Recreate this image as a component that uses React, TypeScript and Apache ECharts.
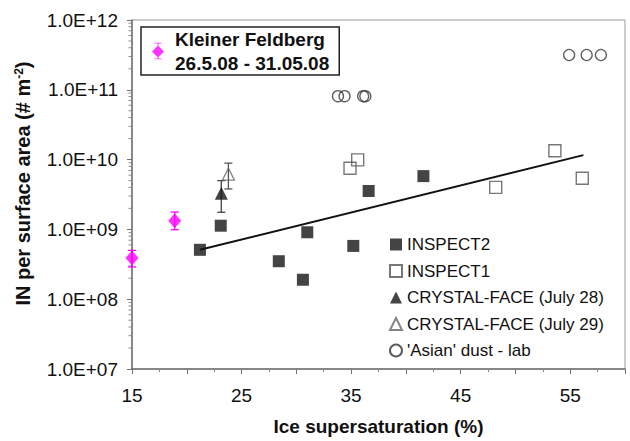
import React, { useEffect, useRef } from "react";
import * as echarts from "echarts";

const FONT = '"Liberation Sans", Arial, Helvetica, sans-serif';

// Kleiner Feldberg (magenta diamonds with error bars)
const kfX = [15.0, 18.9];
const kfY = [3.9e8, 1.33e9];
const kfLow = [2.9e8, 9.9e8];
const kfHigh = [5.0e8, 1.77e9];

// INSPECT2 (filled squares)
const inspect2X = [21.2, 23.1, 28.4, 30.6, 31.0, 35.2, 36.6, 41.6];
const inspect2Y = [5.1e8, 1.13e9, 3.5e8, 1.9e8, 9.1e8, 5.8e8, 3.55e9, 5.8e9];

// INSPECT1 (open squares)
const inspect1X = [34.9, 35.6, 48.2, 53.6, 56.1];
const inspect1Y = [7.5e9, 9.9e9, 4.0e9, 1.34e10, 5.4e9];

// CRYSTAL-FACE (July 28) filled triangle
const cf28X = [23.15];
const cf28Y = [3.3e9];
const cf28Low = [1.76e9];
const cf28High = [5.0e9];

// CRYSTAL-FACE (July 29) open triangle
const cf29X = [23.8];
const cf29Y = [6.2e9];
const cf29Low = [3.8e9];
const cf29High = [8.9e9];

// 'Asian' dust - lab (open circles)
const dustX = [33.8, 34.4, 36.1, 36.3, 54.9, 56.5, 57.8];
const dustY = [8.1e10, 8.1e10, 8.1e10, 8.1e10, 3.15e11, 3.15e11, 3.15e11];

// trend line (fit)
const trendX = [21.2, 56.2];
const trendY = [5.1e8, 1.16e10];

// axis ticks
const yDecades = [1e7, 1e8, 1e9, 1e10, 1e11];
const yMinorMultipliers = [2, 3, 4, 5, 6, 7, 8, 9];
const xLabelValues = [15, 25, 35, 45, 55];

const NAMES = {
  kf: "Kleiner Feldberg",
  i2: "INSPECT2",
  i1: "INSPECT1",
  c28: "CRYSTAL-FACE (July 28)",
  c29: "CRYSTAL-FACE (July 29)",
  dust: "'Asian' dust - lab",
};

const zip = (xs: number[], ys: number[]) => xs.map((x, i) => [x, ys[i]]);
const zip3 = (xs: number[], lo: number[], hi: number[]) =>
  xs.map((x, i) => [x, lo[i], hi[i]]);

const errorBarRender = (color: string) => (params: any, api: any) => {
  const x = api.value(0);
  const lo = api.value(1);
  const hi = api.value(2);
  const a = api.coord([x, hi]);
  const b = api.coord([x, lo]);
  const w = 4;
  const style = { stroke: color, lineWidth: 1.3 };
  return {
    type: "group",
    children: [
      { type: "line", shape: { x1: a[0], y1: a[1], x2: b[0], y2: b[1] }, style },
      { type: "line", shape: { x1: a[0] - w, y1: a[1], x2: a[0] + w, y2: a[1] }, style },
      { type: "line", shape: { x1: b[0] - w, y1: b[1], x2: b[0] + w, y2: b[1] }, style },
    ],
  };
};

const yMinorTicks: number[][] = [];
yDecades.forEach((d) => yMinorMultipliers.forEach((m) => yMinorTicks.push([15, d * m])));

const kfIcon =
  "path://M2,0 L10,0 L10,1 L6.5,1 L6.5,17 L10,17 L10,18 L2,18 L2,17 L5.5,17 L5.5,1 L2,1 Z M6,3 L12.5,9.5 L6,16 L-0.5,9.5 Z";

export default function App() {
  const ref = useRef<HTMLDivElement>(null);

  useEffect(() => {
    const chart = echarts.init(ref.current!, null, { renderer: "svg" });
    const option: any = {
      animation: false,
      backgroundColor: "#ffffff",
      textStyle: { fontFamily: FONT },
      grid: {
        left: 132,
        right: 5,
        top: 20,
        bottom: 70,
        show: true,
        borderColor: "#9a9a9a",
        borderWidth: 1,
        backgroundColor: "#ffffff",
      },
      legend: [
        {
          data: [{ name: NAMES.kf, icon: kfIcon }],
          left: 141,
          top: 27,
          orient: "vertical",
          itemWidth: 12,
          itemHeight: 18,
          padding: [0, 10, 0, 11],
          borderColor: "#222",
          borderWidth: 1.5,
          backgroundColor: "#ffffff",
          selectedMode: false,
          formatter: () => NAMES.kf + "\n26.5.08 - 31.05.08",
          textStyle: {
            fontFamily: FONT,
            fontSize: 19,
            fontWeight: "bold",
            color: "#111",
            lineHeight: 24,
            padding: [0, 0, 0, 6],
          },
        },
        {
          data: [NAMES.i2, NAMES.i1, NAMES.c28, NAMES.c29, NAMES.dust],
          left: 389,
          top: 236,
          orient: "vertical",
          itemWidth: 12,
          itemHeight: 12,
          itemGap: 9.5,
          padding: 0,
          selectedMode: false,
          textStyle: {
            fontFamily: FONT,
            fontSize: 17,
            color: "#111",
            lineHeight: 17,
          },
        },
      ],
      xAxis: {
        type: "value",
        min: 15,
        max: 60,
        interval: 5,
        name: "Ice supersaturation (%)",
        nameLocation: "middle",
        nameGap: 48,
        nameTextStyle: { fontFamily: FONT, fontSize: 19, fontWeight: "bold", color: "#111" },
        axisLine: { show: true, lineStyle: { color: "#707070", width: 1.5 } },
        axisTick: { show: true, length: 5, lineStyle: { color: "#707070" } },
        minorTick: { show: true, splitNumber: 2, length: 3, lineStyle: { color: "#8a8a8a" } },
        splitLine: { show: false },
        axisLabel: {
          margin: 17,
          fontSize: 19,
          color: "#111",
          fontFamily: FONT,
          formatter: (v: number) => (xLabelValues.indexOf(v) >= 0 ? String(v) : ""),
        },
      },
      yAxis: {
        type: "log",
        logBase: 10,
        min: 1e7,
        max: 1e12,
        name: "IN per surface area (# m{sup|-2})",
        nameLocation: "middle",
        nameGap: 99,
        nameTextStyle: {
          fontFamily: FONT,
          fontSize: 20,
          fontWeight: "bold",
          color: "#111",
          padding: [0, 0, 0, 22],
          rich: {
            sup: {
              fontFamily: FONT,
              fontSize: 12,
              fontWeight: "bold",
              color: "#111",
              verticalAlign: "top",
              padding: [0, 0, 8, 0],
            },
          },
        },
        axisLine: { show: true, lineStyle: { color: "#707070", width: 1.5 } },
        axisTick: { show: true, length: 5, lineStyle: { color: "#707070" } },
        splitLine: { show: false },
        axisLabel: {
          margin: 14,
          fontSize: 19,
          color: "#111",
          fontFamily: FONT,
          formatter: (v: number) => {
            const e = Math.round(Math.log10(v));
            return "1.0E+" + (e < 10 ? "0" + e : String(e));
          },
        },
      },
      series: [
        {
          type: "custom",
          name: "yMinorTicks",
          clip: false,
          silent: true,
          z: 1,
          data: yMinorTicks,
          encode: { x: 0, y: 1 },
          renderItem: (params: any, api: any) => {
            const p = api.coord([api.value(0), api.value(1)]);
            return {
              type: "line",
              shape: { x1: p[0] - 3.5, y1: p[1], x2: p[0], y2: p[1] },
              style: { stroke: "#8a8a8a", lineWidth: 1 },
            };
          },
        },
        {
          type: "line",
          name: "trend",
          data: zip(trendX, trendY),
          showSymbol: false,
          symbol: "none",
          lineStyle: { color: "#111", width: 2 },
          z: 2,
          silent: true,
        },
        {
          type: "custom",
          name: "kfErr",
          data: zip3(kfX, kfLow, kfHigh),
          encode: { x: 0, y: [1, 2] },
          renderItem: errorBarRender("#ff00ff"),
          clip: false,
          z: 3,
        },
        {
          type: "custom",
          name: "cf28Err",
          data: zip3(cf28X, cf28Low, cf28High),
          encode: { x: 0, y: [1, 2] },
          renderItem: errorBarRender("#444"),
          z: 3,
        },
        {
          type: "custom",
          name: "cf29Err",
          data: zip3(cf29X, cf29Low, cf29High),
          encode: { x: 0, y: [1, 2] },
          renderItem: errorBarRender("#555"),
          z: 3,
        },
        {
          type: "scatter",
          name: NAMES.kf,
          data: zip(kfX, kfY),
          symbol: "diamond",
          symbolSize: [13, 15],
          itemStyle: { color: "#ff00ff" },
          clip: false,
          z: 5,
        },
        {
          type: "scatter",
          name: NAMES.i2,
          data: zip(inspect2X, inspect2Y),
          symbol: "rect",
          symbolSize: 12,
          itemStyle: { color: "#151515" },
          z: 5,
        },
        {
          type: "scatter",
          name: NAMES.i1,
          data: zip(inspect1X, inspect1Y),
          symbol: "rect",
          symbolSize: 12,
          itemStyle: { color: "rgba(255,255,255,0)", borderColor: "#555", borderWidth: 1.4 },
          z: 5,
        },
        {
          type: "scatter",
          name: NAMES.c28,
          data: zip(cf28X, cf28Y),
          symbol: "triangle",
          symbolSize: 13,
          itemStyle: { color: "#151515" },
          z: 5,
        },
        {
          type: "scatter",
          name: NAMES.c29,
          data: zip(cf29X, cf29Y),
          symbol: "triangle",
          symbolSize: 12,
          itemStyle: { color: "rgba(255,255,255,0)", borderColor: "#666", borderWidth: 1.3 },
          z: 5,
        },
        {
          type: "scatter",
          name: NAMES.dust,
          data: zip(dustX, dustY),
          symbol: "circle",
          symbolSize: 11,
          itemStyle: { color: "rgba(255,255,255,0)", borderColor: "#333", borderWidth: 1.3 },
          z: 5,
        },
      ],
    };
    chart.setOption(option);
    return () => chart.dispose();
  }, []);

  return (
    <div
      ref={ref}
      style={{ position: "fixed", left: 0, top: 0, width: 630, height: 441, background: "#fff" }}
    />
  );
}
